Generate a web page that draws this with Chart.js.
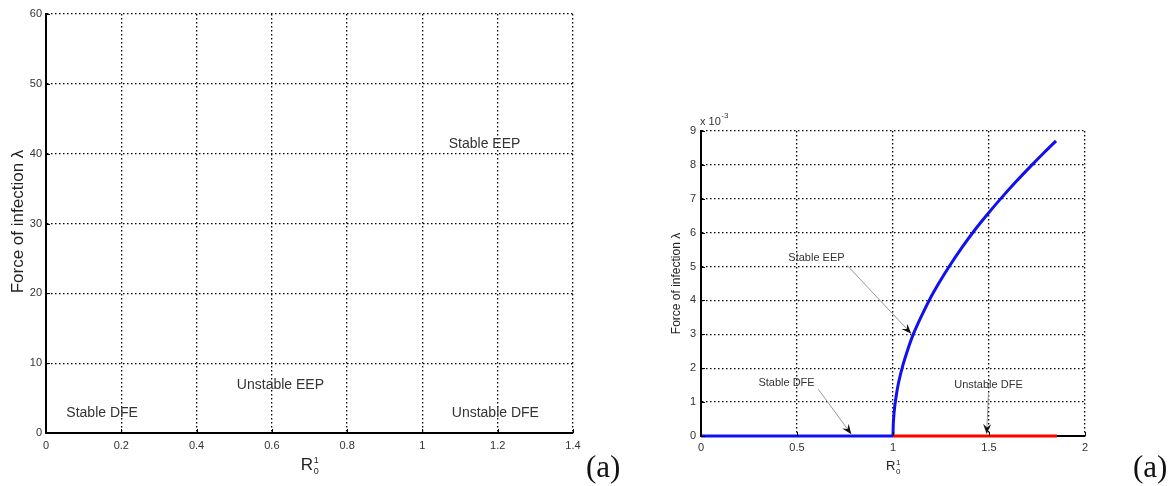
<!DOCTYPE html>
<html><head><meta charset="utf-8">
<script src="https://cdn.jsdelivr.net/npm/chart.js@4.4.1/dist/chart.umd.min.js"></script>
<style>
html,body{margin:0;padding:0;background:#fff;width:1172px;height:486px;overflow:hidden}
#wa{position:absolute;left:0;top:0;width:640px;height:486px}
#wb{position:absolute;left:640px;top:0;width:532px;height:486px}
</style></head><body>
<div id="wa"><canvas id="ca"></canvas></div>
<div id="wb"><canvas id="cb"></canvas></div>
<script>
// ---------- Left panel: regions in (R0^1, lambda) plane ----------
const leftXRange = [0, 1.4];
const leftXStep = 0.2;
const leftYRange = [0, 60];
const leftYStep = 10;
const leftRegionLabels = ['Stable DFE', 'Unstable EEP', 'Unstable DFE', 'Stable EEP'];
const leftRegionX = [0.054, 0.507, 1.078, 1.070];
const leftRegionY = [2.86, 6.87, 2.86, 41.4];

// ---------- Right panel: bifurcation diagram (lambda in units of 10^-3) ----------
const rightXRange = [0, 2];
const rightXStep = 0.5;
const rightYRange = [0, 9];
const rightYStep = 1;
const rightYExponent = '-3';
const stableDfeX = [0, 1];
const stableDfeY = [0, 0];
const unstableDfeX = [1, 1.854];
const unstableDfeY = [0, 0];
const stableEepX = [1.000, 1.002, 1.008, 1.016, 1.030, 1.052, 1.078, 1.107, 1.145, 1.191, 1.240, 1.290, 1.355, 1.429, 1.490, 1.559, 1.640, 1.724, 1.790, 1.849];
const stableEepY = [0, 0.41, 0.82, 1.16, 1.6, 2.1, 2.57, 3.02, 3.5, 4.03, 4.52, 4.98, 5.53, 6.1, 6.53, 6.99, 7.5, 8.0, 8.38, 8.71];
const rightNoteLabels = ['Stable EEP', 'Stable DFE', 'Unstable DFE'];
const rightNoteX = [0.455, 0.299, 1.319];
const rightNoteY = [5.26, 1.56, 1.50];
const rightArrowFromX = [0.762, 0.611, 1.497];
const rightArrowFromY = [5.03, 1.38, 1.26];
const rightArrowToX = [1.095, 0.783, 1.488];
const rightArrowToY = [3.02, 0.05, 0.06];

const pts = (xs, ys) => xs.map((x, i) => ({x, y: ys[i]}));

Chart.defaults.font.family = '"Liberation Sans", Arial, sans-serif';
Chart.defaults.animation = false;

function scaleOpts(range, step, fitProp, fitVal, pad) {
  return {
    type: 'linear', min: range[0], max: range[1],
    afterFit: s => { s[fitProp] = fitVal; },
    grid: {color: '#000', lineWidth: 1.3, drawTicks: false},
    border: {display: true, color: '#000', width: 2, dash: [1.5, 2.5]},
    ticks: {stepSize: step, color: '#333', font: {size: 11}, padding: pad,
            callback: v => String(Number(Number(v).toFixed(3)))}
  };
}

function inwardTicks(chart, len) {
  const {ctx, chartArea: a, scales: {x, y}} = chart;
  ctx.save();
  ctx.strokeStyle = '#000'; ctx.lineWidth = 1;
  x.ticks.forEach(t => {
    const px = Math.round(x.getPixelForValue(t.value)) + 0.5;
    ctx.beginPath(); ctx.moveTo(px, a.bottom); ctx.lineTo(px, a.bottom - len); ctx.stroke();
  });
  y.ticks.forEach(t => {
    const py = Math.round(y.getPixelForValue(t.value)) + 0.5;
    ctx.beginPath(); ctx.moveTo(a.left, py); ctx.lineTo(a.left + len, py); ctx.stroke();
  });
  ctx.restore();
}

function drawYTitle(ctx, text, cx, cy, size) {
  ctx.save();
  ctx.translate(cx, cy); ctx.rotate(-Math.PI / 2);
  ctx.fillStyle = '#222';
  ctx.font = size + 'px "Liberation Sans", Arial, sans-serif';
  ctx.textAlign = 'center'; ctx.textBaseline = 'middle';
  ctx.fillText(text, 0, 0);
  ctx.restore();
}

function drawRTitle(ctx, cx, base, big, small) {
  ctx.save();
  ctx.fillStyle = '#222';
  ctx.textBaseline = 'alphabetic'; ctx.textAlign = 'left';
  ctx.font = big + 'px "Liberation Sans", Arial, sans-serif';
  const rw = ctx.measureText('R').width;
  ctx.font = small + 'px "Liberation Sans", Arial, sans-serif';
  const sw = ctx.measureText('0').width;
  const x0 = cx - (rw + sw) / 2;
  ctx.font = big + 'px "Liberation Sans", Arial, sans-serif';
  ctx.fillText('R', x0, base);
  ctx.font = small + 'px "Liberation Sans", Arial, sans-serif';
  ctx.fillText('0', x0 + rw + 0.5, base + small * 0.45);
  ctx.fillText('1', x0 + rw + 0.5, base - big * 0.42);
  ctx.restore();
}

function drawTag(ctx, x, base) {
  ctx.save();
  ctx.fillStyle = '#111';
  ctx.font = '31px "Liberation Serif", "DejaVu Serif", serif';
  ctx.textAlign = 'left'; ctx.textBaseline = 'alphabetic';
  ctx.fillText('(a)', x, base);
  ctx.restore();
}

function drawArrow(ctx, x1, y1, x2, y2) {
  const ang = Math.atan2(y2 - y1, x2 - x1);
  const L = 10, W = 4;
  ctx.save();
  ctx.strokeStyle = '#999'; ctx.lineWidth = 1;
  ctx.beginPath(); ctx.moveTo(x1, y1);
  ctx.lineTo(x2 - Math.cos(ang) * (L - 3), y2 - Math.sin(ang) * (L - 3)); ctx.stroke();
  ctx.translate(x2, y2); ctx.rotate(ang);
  ctx.fillStyle = '#111';
  ctx.beginPath();
  ctx.moveTo(0, 0); ctx.lineTo(-L, -W); ctx.lineTo(-L + 3.5, 0); ctx.lineTo(-L, W); ctx.closePath();
  ctx.fill();
  ctx.restore();
}

// ---------- Left chart ----------
new Chart(document.getElementById('ca'), {
  type: 'scatter',
  data: {datasets: [{data: []}]},
  options: {
    responsive: true, maintainAspectRatio: false,
    layout: {padding: {left: 0, top: 14, right: 67, bottom: 0}},
    plugins: {legend: {display: false}, tooltip: {enabled: false}},
    scales: {
      x: scaleOpts(leftXRange, leftXStep, 'height', 53, 6),
      y: scaleOpts(leftYRange, leftYStep, 'width', 46, 4)
    }
  },
  plugins: [{
    id: 'leftDeco',
    afterDraw(chart) {
      const {ctx, chartArea: a, scales: {x, y}} = chart;
      inwardTicks(chart, 4);
      ctx.save();
      ctx.fillStyle = '#333';
      ctx.font = '14px "Liberation Sans", Arial, sans-serif';
      ctx.textAlign = 'left'; ctx.textBaseline = 'middle';
      leftRegionLabels.forEach((t, i) => {
        ctx.fillText(t, x.getPixelForValue(leftRegionX[i]), y.getPixelForValue(leftRegionY[i]));
      });
      ctx.restore();
      drawYTitle(ctx, 'Force of infection λ', 18, (a.top + a.bottom) / 2 - 2, 17);
      drawRTitle(ctx, (a.left + a.right) / 2, 470, 17, 9);
      drawTag(ctx, 586, 477);
    }
  }]
});

// ---------- Right chart ----------
new Chart(document.getElementById('cb'), {
  type: 'scatter',
  data: {datasets: [
    {data: pts(stableDfeX, stableDfeY), borderColor: '#1010f0', borderWidth: 3, showLine: true, pointRadius: 0, clip: false},
    {data: pts(unstableDfeX, unstableDfeY), borderColor: '#ff0000', borderWidth: 3, showLine: true, pointRadius: 0, clip: false},
    {data: pts(stableEepX, stableEepY), borderColor: '#1010f0', borderWidth: 3, showLine: true, pointRadius: 0, tension: 0.3, clip: false}
  ]},
  options: {
    responsive: true, maintainAspectRatio: false,
    layout: {padding: {left: 0, top: 131, right: 87, bottom: 0}},
    plugins: {legend: {display: false}, tooltip: {enabled: false}},
    scales: {
      x: scaleOpts(rightXRange, rightXStep, 'height', 50, 5),
      y: scaleOpts(rightYRange, rightYStep, 'width', 61, 5)
    }
  },
  plugins: [{
    id: 'rightDeco',
    afterDraw(chart) {
      const {ctx, chartArea: a, scales: {x, y}} = chart;
      inwardTicks(chart, 4);
      ctx.save();
      ctx.fillStyle = '#333';
      ctx.font = '11px "Liberation Sans", Arial, sans-serif';
      ctx.textAlign = 'left'; ctx.textBaseline = 'middle';
      rightNoteLabels.forEach((t, i) => {
        ctx.fillText(t, x.getPixelForValue(rightNoteX[i]), y.getPixelForValue(rightNoteY[i]));
      });
      ctx.restore();
      rightNoteLabels.forEach((t, i) => {
        drawArrow(ctx, x.getPixelForValue(rightArrowFromX[i]), y.getPixelForValue(rightArrowFromY[i]),
                  x.getPixelForValue(rightArrowToX[i]), y.getPixelForValue(rightArrowToY[i]));
      });
      // exponent label
      ctx.save();
      ctx.fillStyle = '#333';
      ctx.textAlign = 'left'; ctx.textBaseline = 'alphabetic';
      ctx.font = '11px "Liberation Sans", Arial, sans-serif';
      ctx.fillText('x 10', a.left - 1, a.top - 6);
      const w = ctx.measureText('x 10').width;
      ctx.font = '8px "Liberation Sans", Arial, sans-serif';
      ctx.fillText(rightYExponent, a.left - 1 + w + 0.5, a.top - 13);
      ctx.restore();
      drawYTitle(ctx, 'Force of infection λ', 37, (a.top + a.bottom) / 2, 12);
      drawRTitle(ctx, (a.left + a.right) / 2, 470, 13, 8);
      drawTag(ctx, 493, 477);
    }
  }]
});
</script>
</body></html>
